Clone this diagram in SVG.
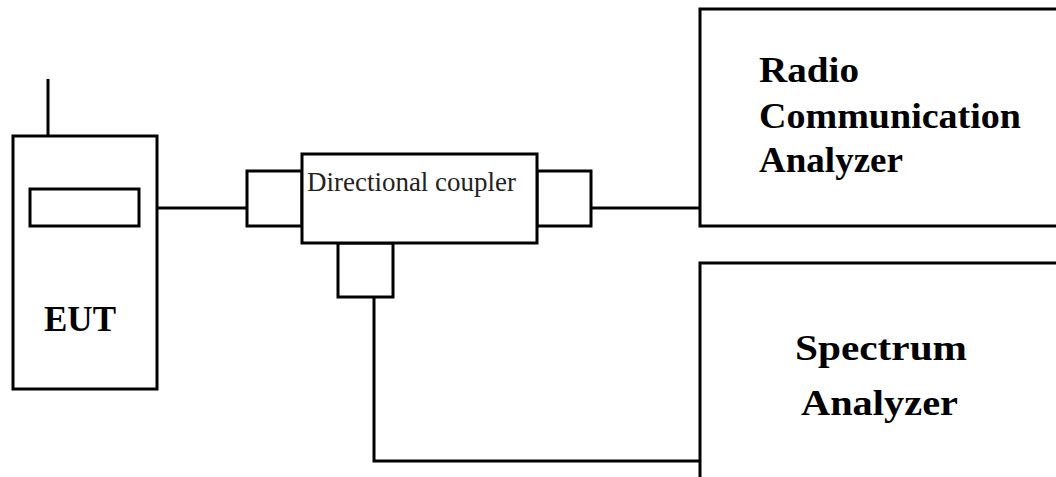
<svg xmlns="http://www.w3.org/2000/svg" width="1056" height="477" viewBox="0 0 1056 477">
<style>
.box{fill:#fff;stroke:#000;stroke-width:3}
.wire{fill:none;stroke:#000;stroke-width:3}
.lbl{font-family:"Liberation Serif","Times New Roman",serif;font-weight:bold;fill:#000}
.sm{font-family:"Liberation Serif","Times New Roman",serif;fill:#222}
</style>
<rect width="1056" height="477" fill="#fff"/>
<g id="connectors">
<line class="wire" x1="157" y1="208" x2="247" y2="208"/>
<line class="wire" x1="591" y1="208" x2="700" y2="208"/>
<polyline class="wire" points="374,297 374,461 700,461"/>
</g>
<g id="eut">
<line class="wire" x1="48" y1="79" x2="48" y2="136"/>
<rect class="box" x="13" y="136" width="144" height="253"/>
<rect class="box" x="30" y="189" width="109" height="37"/>
<text class="lbl" x="80" y="331" font-size="35" text-anchor="middle" textLength="72" lengthAdjust="spacingAndGlyphs">EUT</text>
</g>
<g id="coupler">
<rect class="box" x="247" y="171" width="55" height="55"/>
<rect class="box" x="537" y="171" width="54" height="55"/>
<rect class="box" x="338" y="243" width="55" height="54"/>
<rect class="box" x="302" y="154" width="235" height="89"/>
<text class="sm" x="307" y="191" font-size="27" textLength="209" lengthAdjust="spacingAndGlyphs">Directional coupler</text>
</g>
<g id="radio">
<rect class="box" x="700" y="9" width="370" height="217"/>
<text class="lbl" x="759" y="82" font-size="35" textLength="100" lengthAdjust="spacingAndGlyphs">Radio</text>
<text class="lbl" x="759" y="128" font-size="35" textLength="262" lengthAdjust="spacingAndGlyphs">Communication</text>
<text class="lbl" x="759" y="172" font-size="35" textLength="144" lengthAdjust="spacingAndGlyphs">Analyzer</text>
</g>
<g id="spectrum">
<rect class="box" x="700" y="263" width="370" height="230"/>
<text class="lbl" x="795" y="360" font-size="35" textLength="172" lengthAdjust="spacingAndGlyphs">Spectrum</text>
<text class="lbl" x="801" y="415" font-size="35" textLength="157" lengthAdjust="spacingAndGlyphs">Analyzer</text>
</g>
</svg>
